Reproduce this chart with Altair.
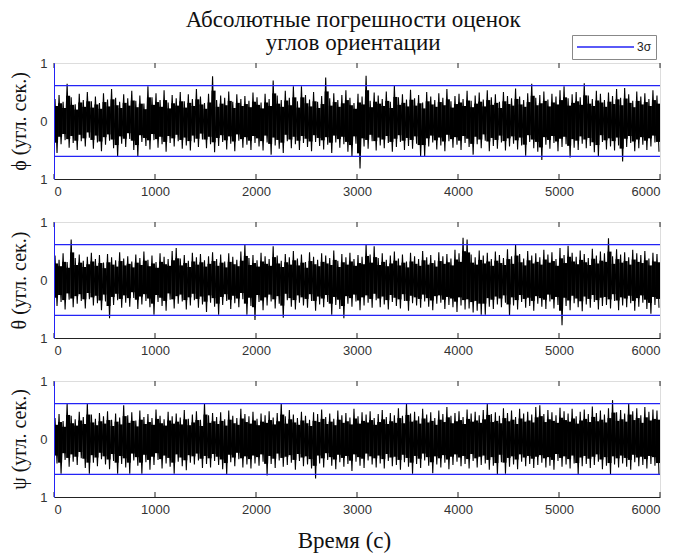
import altair as alt
import pandas as pd

# ---------------- data ----------------
time_ticks = [0, 1000, 2000, 3000, 4000, 5000, 6000]
bin_seconds = 40          # each pair (peak up, peak down) covers 40 s
sigma3 = 0.61             # 3-sigma bound (угл. сек.)
legend_label = "3σ"

# upper / lower excursions per 40 s bin, hundredths of arc-second
phi_hi = [38, 45, 33, 64, 41, 29, 47, 36, 50, 34,
          42, 31, 48, 37, 55, 40, 33, 46, 39, 52,
          35, 44, 30, 60, 41, 48, 36, 53, 32, 45,
          39, 50, 34, 46, 38, 55, 42, 31, 47, 77,
          36, 44, 40, 51, 33, 46, 38, 43, 35, 49,
          41, 32, 47, 38, 70, 44, 36, 52, 40, 60,
          34, 60, 45, 37, 50, 33, 43, 75, 39, 48,
          36, 45, 53, 40, 31, 47, 42, 78, 35, 49,
          44, 38, 51, 33, 61, 41, 46, 37, 54, 39,
          45, 32, 50, 42, 36, 48, 40, 55, 34, 43,
          47, 38, 52, 35, 44, 49, 37, 53, 41, 46,
          33, 50, 43, 39, 56, 42, 36, 48, 64, 40,
          45, 51, 37, 47, 42, 53, 60, 39, 46, 50,
          41, 65, 44, 38, 52, 47, 36, 49, 43, 55,
          40, 57, 46, 35, 51, 42, 48, 38, 53, 44]
phi_lo = [-55, -40, -33, -46, -38, -50, -35, -44, -29, -48,
          -37, -52, -41, -34, -47, -61, -39, -45, -31, -50,
          -61, -36, -43, -49, -33, -46, -40, -53, -38, -44,
          -35, -48, -42, -51, -37, -45, -32, -47, -40, -54,
          -43, -36, -49, -39, -52, -34, -46, -41, -50, -38,
          -44, -51, -37, -58, -42, -48, -55, -35, -47, -40,
          -50, -38, -45, -52, -36, -43, -49, -41, -55, -37,
          -46, -40, -53, -61, -39, -82, -44, -48, -35, -51,
          -42, -47, -38, -53, -45, -36, -50, -43, -48, -39,
          -61, -61, -44, -37, -49, -42, -52, -35, -46, -41,
          -50, -38, -45, -58, -40, -47, -34, -52, -43, -48,
          -37, -51, -44, -39, -49, -42, -60, -36, -47, -53,
          -67, -41, -48, -38, -52, -45, -40, -63, -46, -50,
          -39, -47, -43, -54, -61, -36, -49, -44, -51, -42,
          -70, -45, -38, -52, -47, -41, -50, -44, -37, -53]

theta_hi = [42, 35, 46, 31, 70, 38, 44, 33, 40, 47,
            36, 43, 30, 45, 39, 34, 48, 37, 41, 32,
            44, 38, 49, 35, 42, 31, 46, 40, 36, 50,
            55, 37, 43, 33, 47, 39, 45, 34, 41, 48,
            36, 44, 32, 46, 40, 35, 49, 61, 38, 43,
            34, 47, 41, 36, 58, 42, 33, 45, 39, 50,
            37, 44, 31, 48, 40, 35, 46, 42, 38, 51,
            33, 45, 39, 47, 36, 43, 40, 61, 44, 58,
            38, 46, 35, 42, 49, 37, 44, 32, 47, 41,
            36, 50, 39, 43, 34, 48, 41, 45, 37, 52,
            46, 73, 70, 44, 39, 51, 42, 47, 36, 49,
            43, 38, 53, 41, 62, 45, 37, 50, 42, 46,
            39, 52, 44, 48, 36, 55, 43, 59, 47, 40,
            51, 45, 38, 54, 42, 49, 46, 72, 41, 53,
            44, 48, 39, 52, 46, 43, 50, 37, 47, 45]
theta_lo = [-45, -38, -51, -34, -47, -41, -36, -49, -33, -44,
            -40, -52, -37, -66, -43, -35, -48, -39, -46, -31,
            -50, -42, -36, -47, -60, -38, -45, -53, -34, -49,
            -41, -37, -51, -44, -35, -48, -42, -55, -39, -46,
            -60, -43, -36, -50, -40, -47, -33, -60, -45, -69,
            -38, -52, -44, -37, -49, -41, -65, -35, -46, -51,
            -39, -44, -48, -36, -53, -42, -47, -38, -60, -43,
            -50, -66, -41, -46, -37, -52, -44, -39, -48, -35,
            -47, -42, -51, -38, -45, -49, -36, -53, -40, -44,
            -48, -37, -46, -52, -41, -39, -50, -43, -47, -55,
            -44, -51, -49, -56, -53, -60, -60, -46, -50, -42,
            -47, -39, -62, -44, -51, -38, -48, -45, -53, -41,
            -46, -50, -37, -49, -43, -78, -45, -52, -40, -47,
            -54, -42, -48, -38, -51, -45, -43, -49, -36, -52,
            -44, -47, -40, -53, -46, -39, -50, -58, -43, -48]

psi_hi = [36, 43, 31, 61, 40, 34, 47, 38, 62, 42,
          35, 45, 39, 48, 33, 44, 37, 58, 41, 46,
          32, 49, 38, 43, 36, 51, 40, 34, 47, 39,
          44, 37, 50, 35, 42, 48, 33, 62, 41, 45,
          38, 46, 34, 49, 40, 36, 52, 43, 39, 47,
          35, 44, 41, 48, 37, 45, 62, 39, 50, 42,
          36, 47, 40, 33, 46, 43, 51, 38, 44, 35,
          49, 41, 45, 37, 52, 39, 46, 42, 48, 36,
          43, 50, 38, 45, 41, 53, 40, 61, 44, 47,
          39, 52, 42, 46, 36, 49, 43, 55, 40, 45,
          48, 38, 51, 44, 47, 41, 50, 61, 43, 46,
          40, 53, 45, 49, 38, 52, 44, 47, 42, 55,
          58, 43, 50, 46, 41, 54, 48, 44, 52, 39,
          47, 51, 43, 56, 45, 49, 42, 53, 67, 46,
          50, 44, 62, 48, 53, 41, 55, 47, 51, 49]
psi_lo = [-42, -60, -36, -48, -39, -45, -33, -50, -60, -41,
          -47, -35, -44, -52, -38, -60, -43, -49, -60, -37,
          -46, -60, -40, -53, -45, -36, -51, -42, -48, -60,
          -39, -47, -54, -41, -44, -37, -50, -43, -49, -38,
          -45, -52, -61, -40, -47, -35, -49, -44, -51, -42,
          -46, -39, -63, -43, -50, -37, -48, -45, -41, -53,
          -38, -47, -44, -51, -68, -42, -49, -36, -46, -52,
          -40, -48, -43, -55, -39, -46, -50, -37, -44, -49,
          -42, -51, -38, -47, -45, -53, -40, -48, -60, -43,
          -50, -37, -46, -59, -44, -49, -41, -52, -45, -39,
          -47, -43, -51, -38, -49, -45, -42, -53, -46, -61,
          -40, -60, -48, -44, -52, -39, -47, -43, -50, -45,
          -41, -49, -46, -53, -38, -48, -44, -51, -42, -61,
          -47, -43, -50, -45, -39, -52, -46, -61, -44, -49,
          -42, -48, -53, -40, -47, -45, -51, -43, -46, -61]

# ---------------- styling ----------------
W, H = 606, 116
BLUE = "#2323f5"
SERIF = "Liberation Serif"
SANS = "Liberation Sans"
CORE = 0.68          # share of each bin's swing drawn as the dense (solid) part


def noise_frame(hi, lo):
    t, v = [], []
    for i, (a, b) in enumerate(zip(hi, lo)):
        t += [i * bin_seconds + 0.25 * bin_seconds, i * bin_seconds + 0.75 * bin_seconds]
        v += [a / 100.0, b / 100.0]
    return pd.DataFrame({"t": t, "v": v})


def bin_frame(hi, lo):
    return pd.DataFrame({
        "t": [i * bin_seconds for i in range(len(hi))],
        "t2": [(i + 1) * bin_seconds for i in range(len(hi))],
        "v": [CORE * b / 100.0 for b in lo],
        "v2": [CORE * a / 100.0 for a in hi],
    })


def panel(hi, lo, ytitle, xtitle, with_legend):
    df = noise_frame(hi, lo)
    x_axis_kw = dict(values=time_ticks, ticks=False, domainColor="#222",
                     labelFont=SANS, labelFontSize=13, labelColor="#333",
                     labelPadding=6, grid=False, zindex=1, format="d")
    if xtitle:
        x_axis = alt.Axis(title=xtitle, titleFont=SERIF, titleFontSize=23,
                          titleFontWeight="normal", titleColor="#111",
                          titlePadding=13, titleX=290, **x_axis_kw)
    else:
        x_axis = alt.Axis(title="", **x_axis_kw)
    x = alt.X("t:Q", scale=alt.Scale(domain=[0, 6000], nice=False, zero=False),
              axis=x_axis)
    y = alt.Y("v:Q", scale=alt.Scale(domain=[-1, 1], nice=False),
              axis=alt.Axis(values=[-1, 0, 1],
                            labelExpr="datum.value == 0 ? '0' : '1'",
                            ticks=False, domainColor=BLUE, grid=False,
                            labelFont=SANS, labelFontSize=13, labelColor="#333",
                            labelPadding=7, title=ytitle, titleFont=SERIF,
                            titleFontSize=20, titleFontWeight="normal",
                            titleColor="#111", titlePadding=10, zindex=1))
    core = alt.Chart(bin_frame(hi, lo)).mark_rect(
        color="black", clip=True).encode(x=x, x2="t2:Q", y=y, y2="v2:Q")
    line = alt.Chart(df).mark_line(color="black", strokeWidth=1.1,
                                   strokeJoin="bevel", clip=True).encode(x="t:Q", y="v:Q")

    sig = pd.DataFrame({"v": [sigma3, -sigma3], "label": [legend_label, legend_label]})
    if with_legend:
        color = alt.Color("label:N",
                          scale=alt.Scale(domain=[legend_label], range=[BLUE]),
                          legend=alt.Legend(title=None, orient="none",
                                            legendX=518, legendY=-28,
                                            symbolType="stroke", symbolSize=3249,
                                            symbolStrokeWidth=1.5, clipHeight=16,
                                            labelFont=SANS, labelFontSize=12,
                                            labelColor="#222", labelOffset=2,
                                            strokeColor="#888", fillColor="white",
                                            padding=4, cornerRadius=0))
        rule = alt.Chart(sig).mark_rule(strokeWidth=1.2).encode(y="v:Q", color=color)
    else:
        rule = alt.Chart(sig).mark_rule(strokeWidth=1.2, color=BLUE).encode(y="v:Q")

    tk = pd.DataFrame({"t": time_ticks})
    bottom_ticks = alt.Chart(tk).mark_rule(color="#222").encode(
        x="t:Q", y=alt.value(H - 5), y2=alt.value(H))
    top_ticks = alt.Chart(tk).mark_rule(color="#222").encode(
        x="t:Q", y=alt.value(0), y2=alt.value(5))
    return alt.layer(core, line, rule, bottom_ticks, top_ticks).properties(width=W, height=H)


p1 = panel(phi_hi, phi_lo, "ϕ (угл. сек.)", None, True)
p2 = panel(theta_hi, theta_lo, "θ (угл. сек.)", None, False)
p3 = panel(psi_hi, psi_lo, "ψ (угл. сек.)", "Время (с)", False)

chart = alt.vconcat(p1, p2, p3, spacing=43, bounds="flush").properties(
    title=alt.Title(text=["Абсолютные погрешности оценок", "углов ориентации"],
                    font=SERIF, fontSize=23, fontWeight="normal", color="#111",
                    anchor="middle", lineHeight=23, offset=-20, dx=18),
    padding={"left": 1, "top": 0, "right": 0, "bottom": 0},
).configure_view(stroke="#333", strokeWidth=1).configure(background="white")

chart.save("out.html", embed_options={"renderer": "svg", "actions": False})
